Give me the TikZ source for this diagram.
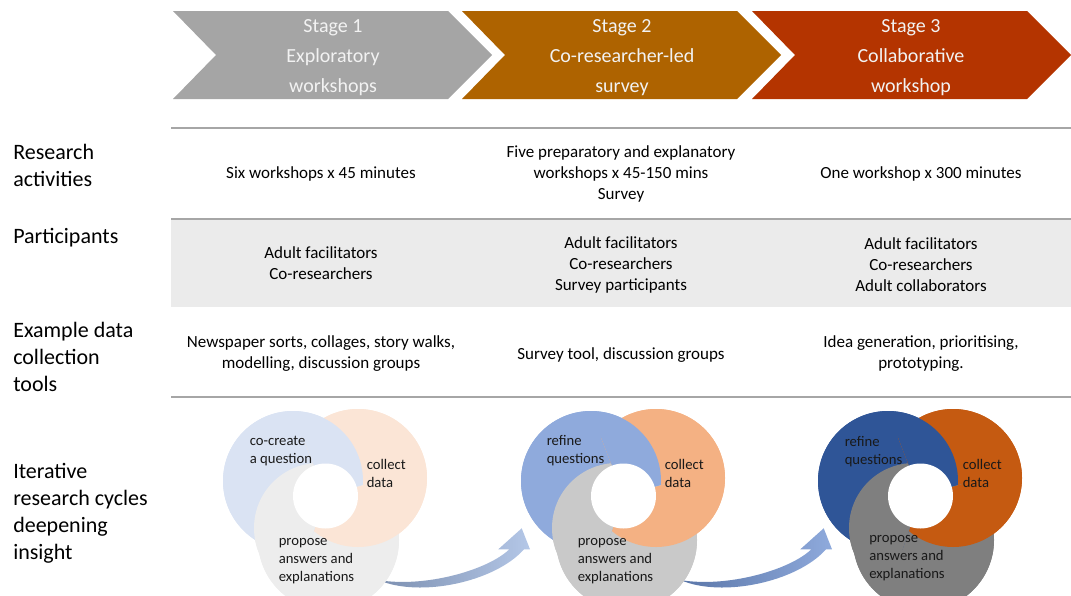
\documentclass[tikz,border=0pt]{standalone}
\usepackage{fontspec}
\setmainfont{Carlito}
\definecolor{stA}{HTML}{A5A5A5}
\definecolor{stB}{HTML}{AE6300}
\definecolor{stC}{HTML}{B43400}
\definecolor{chevtext}{HTML}{F2F2F2}
\definecolor{rulec}{HTML}{A6A6A6}
\definecolor{bandc}{HTML}{EBEBEB}
\definecolor{bA}{HTML}{DAE3F3}\definecolor{oA}{HTML}{FBE5D6}\definecolor{gA}{HTML}{EDEDED}
\definecolor{bB}{HTML}{8FAADC}\definecolor{oB}{HTML}{F4B183}\definecolor{gB}{HTML}{C9C9C9}
\definecolor{bC}{HTML}{2F5597}\definecolor{oC}{HTML}{C55A11}\definecolor{gC}{HTML}{7F7F7F}
\definecolor{arA}{HTML}{B4C7E7}\definecolor{arAd}{HTML}{7C8FB0}
\definecolor{arB}{HTML}{8FAADC}\definecolor{arBd}{HTML}{5A76A8}
\tikzset{
  chevtxt/.style={text=chevtext, font=\fontsize{15}{22.5}\selectfont, align=center, inner sep=0pt},
  rowlab/.style={anchor=west, align=left, font=\fontsize{16.5}{20.25}\selectfont, inner sep=0pt, text=black},
  cell/.style={align=center, font=\fontsize{12.75}{15.75}\selectfont, inner sep=0pt, text=black},
  ctext/.style={anchor=west, align=left, font=\fontsize{11}{13.5}\selectfont, inner sep=0pt, text=black!90},
  rulel/.style={draw=rulec, line width=1.5pt},
}
\newcommand\cyclarrow[3]{%
  \shade[shift={(#1,0)}, left color=#2, middle color=#3, right color=#3]
   (378.3,580) .. controls (420,598) and (495,582) .. (524,549.3) -- (530,549.3)
   -- (521.7,528.3) -- (498.3,549.3) -- (509.3,549.3)
   .. controls (488,570) and (425,588) .. (378.3,580) -- cycle;}
\newcommand\ringgroup[4]{%
  \begin{scope}[shift={(#1,0)}]
    \fill[#4] (328.5,540) circle (70.5); \fill[#4] (319,528) circle (65);
    \fill[#3] (358,478) circle (69);
    \fill[#2] (293,481) circle (70);
    \begin{scope}
      \clip (325.5,496) -- (253.5,310) -- (525,300) -- (517.5,441) -- cycle;
      \fill[#4] (328.5,540) circle (70.5); \fill[#4] (319,528) circle (65);
      \fill[#3] (358,478) circle (69);
      \fill[#2] (293,481) circle (70);
    \end{scope}
    \begin{scope}
      \clip (325.5,496) -- (517.5,441) -- (525,700) -- (261.5,685.4) -- cycle;
      \fill[#2] (293,481) circle (70);
      \fill[#4] (328.5,540) circle (70.5); \fill[#4] (319,528) circle (65);
      \fill[#3] (358,478) circle (69);
    \end{scope}
    \begin{scope}
      \clip (325.5,496) -- (261.5,685.4) -- (100,700) -- (100,300) -- (253.5,310) -- cycle;
      \fill[#3] (358,478) circle (69);
      \fill[#2] (293,481) circle (70);
      \fill[#4] (328.5,540) circle (70.5); \fill[#4] (319,528) circle (65);
    \end{scope}
    \fill[white] (325.5,496) circle (32.5);
  \end{scope}}
\begin{document}
\begin{tikzpicture}[x=0.75pt,y=-0.75pt]
\useasboundingbox (0,0) rectangle (1071,596);
\clip (0,0) rectangle (1071,596);
% chevrons
\foreach \x/\c in {173/stA,462/stB,752/stC}
  \fill[\c] (\x,11) -- ++(275,0) -- ++(44,44) -- ++(-44,44) -- ++(-275,0) -- ++(43,-44) -- cycle;
\node[chevtxt] (s1) at (333,58) {Stage 1\\Exploratory\\workshops};
\node[chevtxt] (s2) at (622,58) {Stage 2\\Co-researcher-led\\survey};
\node[chevtxt] (s3) at (911,58) {Stage 3\\Collaborative\\workshop};
% table
\fill[bandc] (171,219) rectangle (1071,307);
\draw[rulel] (171,128) -- (1071,128);
\draw[rulel] (171,218.5) -- (1071,218.5);
\draw[rulel] (171,397) -- (1071,397);
\node[rowlab] (r1) at (13,165.5) {Research\\activities};
\node[rowlab] (r2) at (13,238) {Participants};
\node[rowlab] (r3) at (13,357) {Example data\\collection\\tools};
\node[rowlab] (r4) at (13,513) {Iterative\\research cycles\\deepening\\insight};
\node[cell] (c11) at (321,174) {Six workshops x 45 minutes};
\node[cell] (c12) at (621,174) {Five preparatory and explanatory\\workshops x 45-150 mins\\Survey};
\node[cell] (c13) at (921,174) {One workshop x 300 minutes};
\node[cell] (c21) at (321,263) {Adult facilitators\\Co-researchers};
\node[cell] (c22) at (621,264.5) {Adult facilitators\\Co-researchers\\Survey participants};
\node[cell] (c23) at (921,264.5) {Adult facilitators\\Co-researchers\\Adult collaborators};
\node[cell] (c31) at (321,354) {Newspaper sorts, collages, story walks,\\modelling, discussion groups};
\node[cell] (c32) at (621,355) {Survey tool, discussion groups};
\node[cell] (c33) at (921,354) {Idea generation, prioritising,\\prototyping.};
% arrows
\cyclarrow{0}{arAd}{arA}
\cyclarrow{302}{arBd}{arB}
% ring groups
\ringgroup{0}{bA}{oA}{gA}
\ringgroup{298}{bB}{oB}{gB}
\ringgroup{595}{bC}{oC}{gC}
\node[ctext] (t1a) at (249.5,451) {co-create\\a question};
\node[ctext] (t1b) at (366.5,473) {collect\\data};
\node[ctext] (t1c) at (278.5,561) {propose\\answers and\\explanations};
\node[ctext] (t2a) at (546.5,451) {refine\\questions};
\node[ctext] (t2b) at (664.5,473) {collect\\data};
\node[ctext] (t2c) at (577.5,561) {propose\\answers and\\explanations};
\node[ctext] (t3a) at (844.5,451.5) {refine\\questions};
\node[ctext] (t3b) at (962.5,473) {collect\\data};
\node[ctext] (t3c) at (869,558) {propose\\answers and\\explanations};
\end{tikzpicture}
\end{document}
